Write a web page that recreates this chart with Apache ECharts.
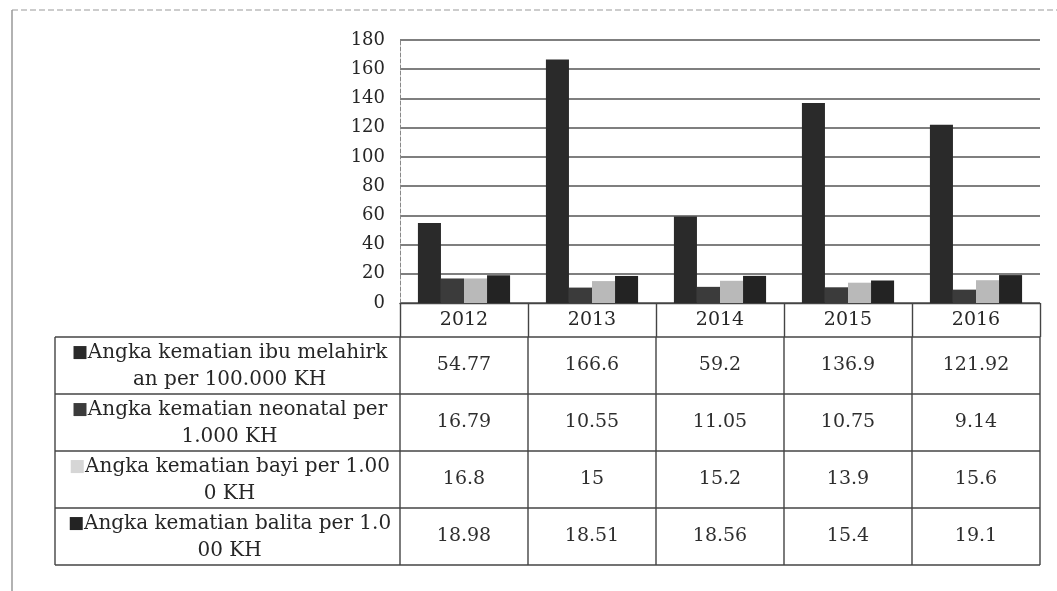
<!DOCTYPE html>
<html>
<head>
<meta charset="utf-8">
<script src="https://cdn.jsdelivr.net/npm/echarts@6/dist/echarts.min.js"></script>
<style>
  html, body { margin: 0; padding: 0; background: #fff; }
  #chart { width: 1057px; height: 591px; }
</style>
</head>
<body>
<div id="chart"></div>
<script>
// data
const years = ['2012', '2013', '2014', '2015', '2016']
const seriesNames = [
  'Angka kematian ibu melahirkan per 100.000 KH',
  'Angka kematian neonatal per 1.000 KH',
  'Angka kematian bayi per 1.000 KH',
  'Angka kematian balita per 1.000 KH'
]
// wrapped as in the table
const labelLines = [
  ['Angka kematian ibu melahirk', 'an per 100.000 KH'],
  ['Angka kematian neonatal per', '1.000 KH'],
  ['Angka kematian bayi per 1.00', '0 KH'],
  ['Angka kematian balita per 1.0', '00 KH']
]
const ibu = [54.77, 166.6, 59.2, 136.9, 121.92]
const neonatal = [16.79, 10.55, 11.05, 10.75, 9.14]
const bayi = [16.8, 15, 15.2, 13.9, 15.6]
const balita = [18.98, 18.51, 18.56, 15.4, 19.1]
const yTicks = { min: 0, max: 180, interval: 20 }

const allValues = [ibu, neonatal, bayi, balita]
const colors = ['#2a2a2a', '#3b3b3b', '#b9b9b9', '#232323']
const keyColors = ['#2a2a2a', '#3b3b3b', '#d6d6d6', '#232323']

const FONT = 'DejaVu Serif'
const gridLeft = 400
const gridRight = 1040
const tableTop = 337
const rowH = 57
const labelLeft = 55

const chart = echarts.init(document.getElementById('chart'))

// 数据表
const buildTable = () => {
  const els = []
  const colW = (gridRight - gridLeft) / years.length
  const lineStyle = { stroke: '#444', lineWidth: 1.4 }
  for (let i = 0; i <= allValues.length; i++) {
    const y = tableTop + i * rowH
    els.push({ type: 'line', shape: { x1: labelLeft, y1: y, x2: gridRight, y2: y }, style: lineStyle })
  }
  const bottom = tableTop + allValues.length * rowH
  els.push({ type: 'line', shape: { x1: labelLeft, y1: tableTop, x2: labelLeft, y2: bottom }, style: lineStyle })
  for (let k = 0; k <= years.length; k++) {
    const x = gridLeft + k * colW
    els.push({ type: 'line', shape: { x1: x, y1: tableTop, x2: x, y2: bottom }, style: lineStyle })
  }
  allValues.forEach((vals, i) => {
    const cy = tableTop + i * rowH + rowH / 2
    vals.forEach((v, j) => {
      els.push({
        type: 'text',
        x: gridLeft + (j + 0.5) * colW,
        y: cy,
        style: {
          text: String(v),
          fill: '#2e2e2e',
          font: '19px "' + FONT + '"',
          align: 'center',
          verticalAlign: 'middle'
        }
      })
    })
    els.push({
      type: 'text',
      x: (labelLeft + gridLeft) / 2 + 2,
      y: cy + 1,
      style: {
        text: '{k|■}{t|' + labelLines[i][0] + '}\n{t|' + labelLines[i][1] + '}',
        align: 'center',
        verticalAlign: 'middle',
        rich: {
          k: { fill: keyColors[i], font: '17px "' + FONT + '"', lineHeight: 27 },
          t: { fill: '#262626', font: '20px "' + FONT + '"', lineHeight: 27 }
        }
      }
    })
  })
  // scan frame
  els.push({ type: 'line', shape: { x1: 12, y1: 10, x2: 1057, y2: 10 }, style: { stroke: '#999', lineWidth: 1, lineDash: [6, 3] } })
  els.push({ type: 'line', shape: { x1: 12, y1: 10, x2: 12, y2: 591 }, style: { stroke: '#999', lineWidth: 1.5 } })
  return els
}

const option = {
  animation: false,
  backgroundColor: '#fff',
  grid: { left: gridLeft, right: 1057 - gridRight, top: 40, bottom: 591 - 303 },
  xAxis: {
    type: 'category',
    data: years,
    axisLine: { lineStyle: { color: '#444', width: 1.4 } },
    axisTick: { show: true, length: 34, lineStyle: { color: '#444', width: 1.4 } },
    axisLabel: { color: '#262626', fontFamily: FONT, fontSize: 19, margin: 8 }
  },
  yAxis: {
    type: 'value',
    min: yTicks.min,
    max: yTicks.max,
    interval: yTicks.interval,
    axisLine: { show: true, lineStyle: { color: '#888', width: 1, type: 'dashed' } },
    axisTick: { show: false },
    axisLabel: { color: '#262626', fontFamily: FONT, fontSize: 18, margin: 15 },
    splitLine: { lineStyle: { color: '#555', width: 1.6 } }
  },
  series: allValues.map((vals, i) => ({
    name: seriesNames[i],
    type: 'bar',
    data: vals,
    barGap: '0%',
    barCategoryGap: '28%',
    itemStyle: { color: colors[i] }
  })),
  graphic: buildTable()
}

chart.setOption(option)
</script>
</body>
</html>
